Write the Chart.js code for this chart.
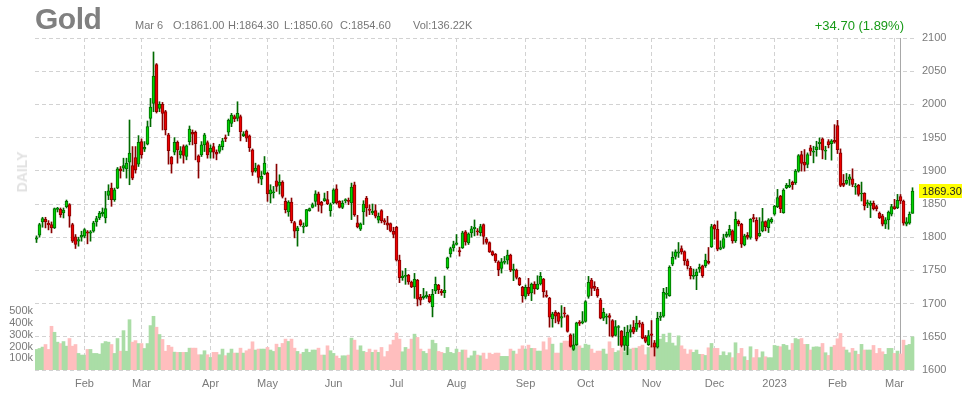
<!DOCTYPE html>
<html>
<head>
<meta charset="utf-8">
<title>Gold</title>
<script src="https://cdn.jsdelivr.net/npm/chart.js@4.4.1/dist/chart.umd.min.js"></script>
<style>
html, body { margin: 0; padding: 0; background: #fff; }
#wrap { position: relative; width: 962px; height: 400px; font-family: Arial, "Liberation Sans", sans-serif; overflow: hidden; }
#wrap canvas { position: absolute; left: 0; top: 0; }
.t { position: absolute; white-space: nowrap; line-height: 1; }
.info { font-size: 11px; color: #777; top: 20px; }
</style>
</head>
<body>
<div id="wrap">
	<canvas id="goldChart" width="962" height="400"></canvas>
	<div class="t" style="left:35px;top:4px;font-size:30px;font-weight:bold;color:#808080;letter-spacing:-0.5px;">Gold</div>
	<div class="t info" id="hDate" style="left:135px;"></div>
	<div class="t info" id="hO" style="left:173px;"></div>
	<div class="t info" id="hH" style="left:228px;"></div>
	<div class="t info" id="hL" style="left:284px;"></div>
	<div class="t info" id="hC" style="left:340px;"></div>
	<div class="t info" id="hV" style="left:413px;"></div>
	<div class="t" id="hChg" style="right:58px;top:19px;font-size:13px;color:#189a18;"></div>
	<div class="t" style="left:22px;top:172px;font-size:14px;font-weight:bold;color:#e2e2e2;transform:translate(-50%,-50%) rotate(-90deg);">DAILY</div>
</div>
<script>
// daily candles, Jan 2022 - Mar 2023
const opens = [
	1797,1803,1823,1827,1821,1819,1814,1842,1842,1836.5,
	1846,1849,1819,1800.5,1794,1800,1801.5,1808,1806,1809,
	1823,1829,1835,1829,1863,1874,1856.5,1874,1903,1904,
	1903,1913,1908,1920,1910,1944,1932.5,1940,1979,2001.5,
	2060,1994,2000,1989,1954,1920.5,1928,1943,1924,1936.5,
	1921.5,1944,1958,1958,1922.5,1924,1939,1942.5,1928,1936.5,
	1928,1929,1936.5,1950,1958,1971.5,1981.5,1979,1981.5,1953,
	1960,1952.5,1931.5,1900,1908,1887.5,1895,1896.5,1865,1867,
	1885,1878,1883,1854,1838,1853,1822,1810,1825,1815,
	1816.5,1840,1845,1854,1865.5,1852.5,1855,1856.5,1840,1851.5,
	1873,1854,1845,1855,1855.5,1851.5,1879,1821.5,1812,1838,
	1859,1842.5,1836.5,1840,1825.5,1840,1825,1821.5,1820.5,1809,
	1815,1765.5,1739,1741,1742.5,1732.5,1725,1735,1710,1709,
	1710,1711.5,1695,1719,1728,1719,1716,1754,1775,1784,
	1789,1780,1784,1808,1791.5,1806.5,1813,1809,1807,1819,
	1797,1792,1778.5,1774.5,1763,1753,1762,1765.5,1773,1750,
	1750.5,1738,1724.5,1711,1724.5,1716,1729.5,1722,1729.5,1737,
	1713,1708.5,1677,1687,1685.5,1678,1686,1682,1653,1631,
	1638,1672,1671,1673,1711,1735.5,1726,1722,1705.5,1678,
	1679.5,1682,1674.5,1652,1664,1658.5,1637,1636,1657,1664.5,
	1661,1671,1669.5,1649.5,1638,1654.5,1641,1634.5,1679,1681,
	1714,1712,1759.5,1771,1776,1783,1778.5,1764.5,1753,1741,
	1742,1752,1757,1757,1763.5,1785.5,1818,1812,1782,1784.5,
	1801,1803,1809.5,1794.5,1824,1819.5,1788.5,1803,1799.5,1829.5,
	1825.5,1802,1809.5,1823.5,1814.5,1823,1834.5,1846,1862,1837,
	1874.5,1876,1882.5,1882,1899.5,1924.5,1913,1909.5,1934.5,1928,
	1932,1941,1948,1929.5,1944,1941,1946,1968,1927,1881,
	1881,1887,1888,1875.5,1878,1865,1866,1850,1848,1851,
	1846,1836,1832,1819.5,1826,1834.5,1846,1844.5,1861,1854.5,
	1819.5,1821,1836
];
const highs = [
	1802,1821,1830,1830,1825,1823,1844,1845,1844,1844,
	1856,1850.5,1821,1804,1800,1809,1813,1810,1810,1824,
	1831.5,1839,1844,1869,1879,1881.5,1874,1905,1906.5,1919,
	1919,1976.5,1936.5,1936.5,1953,1948,1944,1975,2009,2079,
	2061.5,2004,2003,1991,1956.5,1921.5,1950,1945,1936.5,1939,
	1939,1967.5,1961.5,1960,1924,1944,1956.5,1945,1939,1941.5,
	1931.5,1940,1949,1954,1978,1986.5,1984,2004,1984,1959,
	1961.5,1954,1933,1911.5,1909,1899,1921.5,1898,1879,1876.5,
	1910,1894,1885,1859,1855,1859,1824,1816.5,1826.5,1821.5,
	1842,1844,1851.5,1870,1868,1854,1866.5,1869,1851.5,1873,
	1879,1855,1855,1858,1859,1881.5,1883,1833,1821.5,1855,
	1861.5,1849,1850,1849,1836.5,1841.5,1828,1831.5,1821.5,1815,
	1816.5,1773,1749,1753,1744,1734,1745.5,1736.5,1714,1723,
	1718,1714,1721.5,1740,1729,1721.5,1741.5,1770,1785,1794,
	1804,1785,1809,1810,1806.5,1816.5,1826,1813,1819.5,1820,
	1799.5,1793,1779.5,1775.5,1764.5,1768,1771,1780.5,1774.5,1759.5,
	1752,1739.5,1726,1728,1738,1731,1733,1742,1747,1738,
	1719.5,1709.5,1687,1689.5,1687,1697,1694.5,1683,1654.5,1654.5,
	1672,1674.5,1688,1704.5,1741,1738,1733,1724.5,1708,1693,
	1684.5,1685,1676,1674.5,1667,1659.5,1664.5,1667,1668,1674.5,
	1681,1674.5,1672,1652,1659.5,1674.5,1644.5,1687,1687,1723,
	1724.5,1757,1778,1781,1792,1787,1779.5,1767,1756,1752,
	1752,1759.5,1758,1774.5,1784.5,1819.5,1819.5,1824.5,1794.5,1804.5,
	1808,1818,1811,1838,1826,1821,1804.5,1807,1828,1834.5,
	1829.5,1829.5,1843.5,1824.5,1828,1829.5,1848,1872,1863,1873,
	1881,1887,1884.5,1902,1924.5,1929.5,1932,1927,1938.5,1937,
	1944.5,1949.5,1949.5,1937,1947,1947,1969.5,1976,1933,1894.5,
	1896,1894.5,1903,1881,1879.5,1883,1867,1856,1854.5,1854.5,
	1848,1838,1834.5,1829.5,1839.5,1849.5,1857,1864.5,1864.3,1856,
	1829.5,1838,1874.5
];
const lows = [
	1792,1800,1815,1814,1811,1806.5,1813,1838,1830,1829,
	1844,1815,1792,1783,1786.5,1794,1799,1790,1794,1807.5,
	1816.5,1826.5,1831.5,1821.5,1856.5,1846.5,1854,1873,1889,1899,
	1889,1879,1886.5,1896.5,1906.5,1919,1929,1939,1966.5,1989,
	1987,1989,1961.5,1954,1910,1896.5,1924,1911.5,1919,1911.5,
	1916.5,1939,1939,1916.5,1889,1921.5,1929,1919,1919,1919,
	1916.5,1926.5,1931.5,1944,1953,1966.5,1974,1975,1945,1951.5,
	1944,1929,1893,1898,1881.5,1879,1894,1854,1851.5,1859,
	1869,1865,1859,1836.5,1831.5,1821.5,1799,1786.5,1816.5,1806.5,
	1816,1839,1844,1846.5,1839,1836.5,1854,1849,1831.5,1850,
	1850,1844,1843,1851.5,1849,1826.5,1831.5,1814,1810,1819,
	1831.5,1834,1834,1829,1821.5,1821.5,1819,1811.5,1808,1799,
	1764,1731.5,1735,1729,1729,1724,1708,1696.5,1698,1706.5,
	1708,1701.5,1680,1715,1715,1712.5,1709,1752,1770,1779,
	1788,1771.5,1783,1788,1789,1800,1802,1803,1802,1789.5,
	1789.5,1777,1772,1762,1742,1746,1759.5,1759.5,1748,1734.5,
	1737,1727,1702,1707,1712,1704.5,1714.5,1721,1728,1709.5,
	1709.5,1664.5,1664.5,1671,1669.5,1664.5,1679.5,1657,1634.5,1629.5,
	1637,1667,1669.5,1672,1708,1712,1719.5,1709.5,1677,1674.5,
	1669.5,1651,1649.5,1651,1637,1634.5,1629.5,1623,1649.5,1654.5,
	1658,1664.5,1647,1641,1637,1634.5,1621,1633,1674.5,1679.5,
	1708,1711,1757,1767,1769.5,1774.5,1758,1752,1737,1737,
	1721,1747,1739.5,1754.5,1759.5,1784.5,1797,1779.5,1781,1783,
	1799.5,1801,1791,1792,1817,1784.5,1787,1797,1797,1823,
	1794.5,1801,1808,1809.5,1807,1821,1833,1844.5,1837,1836,
	1873,1874.5,1872,1879.5,1898,1899.5,1899.5,1904.5,1923,1912,
	1922,1932,1918,1917,1934.5,1916,1941.5,1926,1876,1876,
	1879.5,1878,1876,1864.5,1862,1854.5,1841,1844.5,1829.5,1841,
	1839.5,1828,1817,1813,1812,1832,1842,1843,1850.6,1818,
	1817,1819.5,1836
];
const closes = [
	1799,1819,1828,1823,1818.5,1814,1843,1842.5,1834,1841,
	1854,1831.5,1794,1789,1796.5,1803,1811.5,1806,1808,1821.5,
	1828,1836.5,1838,1843,1870,1856.5,1871.5,1903,1900,1908,
	1911.5,1926.5,1889,1901.5,1943,1924,1935.5,1966.5,1996,2042.5,
	1989,2000,1986.5,1961.5,1930.5,1910,1943,1931.5,1930,1923,
	1937.5,1963,1955,1941,1913,1939,1954,1924,1934,1928,
	1925,1937.5,1945,1948,1976.5,1984,1978,1986.5,1959,1955.5,
	1949,1935,1898,1904,1890,1891.5,1911.5,1865,1871.5,1868,
	1876.5,1883,1861.5,1841.5,1853,1825,1809,1814,1819,1816,
	1841.5,1843,1849,1865.5,1849,1848,1858,1850,1849,1871.5,
	1851.5,1845,1851.5,1856.5,1854,1875.5,1834,1815.5,1820,1850,
	1844,1840.5,1839,1831.5,1831.5,1825,1822.5,1818,1809,1804,
	1765.5,1739,1741.5,1742.5,1732.5,1725,1736.5,1706.5,1705,1711.5,
	1713,1703,1714,1729,1720.5,1716.5,1720,1769,1783,1789,
	1791.5,1778,1806.5,1793,1805,1812.5,1815,1808,1816,1801,
	1792,1778,1773.5,1764.5,1751,1763,1763.5,1773,1750.5,1752,
	1739.5,1728.5,1712,1724.5,1714.5,1729.5,1722,1729.5,1741,1718,
	1711,1679.5,1684.5,1681,1673,1680.5,1684.5,1658,1635.5,1638,
	1671,1670,1673,1703,1732,1723,1723,1712,1678,1687,
	1680.5,1679,1651,1665.5,1665,1637,1651,1657,1661,1657,
	1670.5,1669,1648,1643,1652,1652,1634.5,1678,1681,1717,
	1716,1754.5,1769.5,1778,1778,1778,1764.5,1757,1742,1742.5,
	1748,1754.5,1742,1765.5,1761,1816,1812,1782,1784.5,1798,
	1804.5,1812,1794.5,1827,1820.5,1789.5,1802,1799.5,1827,1828,
	1797,1806,1823.5,1816,1826,1827,1847,1859.5,1843,1871,
	1878,1878,1879,1899.5,1923,1911,1908.5,1924.5,1929.5,1929.5,
	1936,1943,1931,1931,1939.5,1945,1943,1932,1878,1878,
	1885.5,1891,1879.5,1876,1864.5,1866,1847,1852,1851,1843,
	1843,1829.5,1819.5,1826,1838,1846,1843,1855.5,1854.6,1821,
	1823,1834.6,1869.3
];
// volume in thousands of contracts
const volumes = [
	175,183,195,217,175,372,321,237,225,242,
	203,268,203,217,141,127,127,175,175,141,
	141,135,225,242,237,217,141,268,160,335,
	160,428,237,250,225,225,183,225,378,457,
	364,302,260,160,210,195,152,150,150,150,
	150,186,186,186,130,130,164,130,107,150,
	150,130,178,122,144,178,144,144,186,144,
	164,178,240,170,178,178,178,192,170,158,
	220,192,226,263,243,263,186,158,136,150,
	178,150,170,170,186,127,127,206,164,141,
	119,99,121,121,127,271,254,170,206,158,
	150,178,150,170,150,192,113,158,215,254,
	314,263,155,192,178,263,305,277,178,158,
	141,178,254,226,158,150,141,192,150,141,
	178,150,170,170,102,121,161,127,121,144,
	93,144,133,144,144,116,116,116,178,161,
	136,178,206,178,212,184,184,161,161,240,
	172,274,220,144,144,229,246,246,246,206,
	229,206,186,220,212,178,144,161,161,178,
	136,240,184,150,164,186,155,192,178,186,
	186,200,212,130,192,206,229,192,263,305,
	234,314,229,206,291,206,178,136,172,150,
	170,133,133,124,189,226,184,184,124,155,
	124,147,105,232,141,184,113,82,198,105,
	175,105,155,113,105,105,209,203,198,218,
	209,170,226,268,260,268,218,218,170,195,
	198,195,226,147,124,195,209,266,311,195,
	170,147,184,161,133,218,170,170,170,209,
	141,184,155,133,184,184,141,161,136.22,254,
	209,218,282
];

// first trading day of each month (candle index) and its label
const monthIdx = [16, 35, 58, 77, 99, 120, 140, 163, 183, 205, 226, 246, 267, 286];
const monthLabels = ['Feb', 'Mar', 'Apr', 'May', 'Jun', 'Jul', 'Aug', 'Sep', 'Oct', 'Nov', 'Dec', '2023', 'Feb', 'Mar'];
const volTicks = [100, 200, 300, 400, 500];

const hoverIdx = 288;
const hoverLabel = 'Mar 6';

document.addEventListener('DOMContentLoaded', () => {
	const last = closes.length - 1;
	const up = closes.map((c, i) => c >= opens[i]);

	// header text
	const f2 = v => v.toFixed(2);
	document.getElementById('hDate').textContent = hoverLabel;
	document.getElementById('hO').textContent = 'O:' + f2(opens[hoverIdx]);
	document.getElementById('hH').textContent = 'H:' + f2(highs[hoverIdx]);
	document.getElementById('hL').textContent = 'L:' + f2(lows[hoverIdx]);
	document.getElementById('hC').textContent = 'C:' + f2(closes[hoverIdx]);
	document.getElementById('hV').textContent = 'Vol:' + f2(volumes[hoverIdx]) + 'K';
	const chg = closes[last] - closes[last - 1];
	const pct = chg / closes[last - 1] * 100;
	document.getElementById('hChg').textContent = (chg >= 0 ? '+' : '') + f2(chg) + ' (' + f2(pct) + '%)';

	const wickData = highs.map((h, i) => ({ x: i, y: [lows[i], h] }));
	const bodyData = opens.map((o, i) => ({ x: i, y: [o, closes[i]] }));
	const volData = volumes.map((v, i) => ({ x: i, y: v }));

	const overlay = {
		id: 'overlay',
		beforeDatasetsDraw(chart) {
			const { ctx, chartArea, scales } = chart;
			const x = Math.floor(scales.x.getPixelForValue(hoverIdx)) + 0.5;
			ctx.save();
			ctx.strokeStyle = '#a8a8a8';
			ctx.lineWidth = 1;
			ctx.beginPath();
			ctx.moveTo(x, chartArea.top);
			ctx.lineTo(x, chartArea.bottom);
			ctx.stroke();
			ctx.restore();
		},
		afterDraw(chart) {
			const { ctx, chartArea, scales } = chart;
			const y = scales.y.getPixelForValue(closes[last]);
			ctx.save();
			ctx.fillStyle = '#ffff00';
			ctx.fillRect(chartArea.right + 4, Math.round(y) - 7, 43, 14);
			ctx.fillStyle = '#222';
			ctx.font = '11px Arial, "Liberation Sans", sans-serif';
			ctx.textBaseline = 'middle';
			ctx.fillText(f2(closes[last]), chartArea.right + 7, Math.round(y) + 0.5);
			ctx.restore();
		}
	};

	new Chart(document.getElementById('goldChart'), {
		type: 'bar',
		data: {
			datasets: [
				{
					label: 'Volume',
					data: volData,
					yAxisID: 'yVol',
					backgroundColor: up.map(u => u ? '#aadda6' : '#ffbebe'),
					barThickness: 3,
					grouped: false,
					order: 3
				},
				{
					label: 'Range',
					data: wickData,
					yAxisID: 'y',
					backgroundColor: up.map(u => u ? '#006a00' : '#880000'),
					barThickness: 1,
					minBarLength: 1,
					grouped: false,
					order: 2
				},
				{
					label: 'Gold',
					data: bodyData,
					yAxisID: 'y',
					backgroundColor: up.map(u => u ? '#00d400' : '#ee0000'),
					borderColor: up.map(u => u ? '#006a00' : '#880000'),
					borderWidth: 1,
					borderSkipped: false,
					barThickness: 3,
					minBarLength: 1,
					grouped: false,
					order: 1
				}
			]
		},
		options: {
			responsive: false,
			animation: false,
			events: [],
			layout: { padding: { top: 38 } },
			font: { family: 'Arial, "Liberation Sans", sans-serif', size: 11 },
			plugins: { legend: { display: false }, tooltip: { enabled: false } },
			scales: {
				x: {
					type: 'linear',
					offset: false,
					min: -0.5,
					max: 292.83,
					grid: { color: '#d2d2d2', drawTicks: false, offset: false },
					border: { display: false, dash: [4, 3] },
					ticks: {
						color: '#7a7a7a',
						font: { size: 11 },
						padding: 7,
						autoSkip: false,
						maxRotation: 0,
						callback: (v, i) => monthLabels[i]
					},
					afterBuildTicks: s => { s.ticks = monthIdx.map(v => ({ value: v })); },
					afterFit: s => { s.height = 30; }
				},
				y: {
					position: 'right',
					min: 1600,
					max: 2100,
					grid: { color: '#d2d2d2', drawTicks: false },
					border: { display: false, dash: [4, 3] },
					ticks: { stepSize: 50, padding: 7, color: '#7a7a7a', font: { size: 11 }, callback: v => String(v) },
					afterFit: s => { s.width = 47; }
				},
				yVol: {
					position: 'left',
					min: 0,
					max: 2825,
					grid: { display: false, drawTicks: false },
					border: { display: false },
					ticks: { padding: 2, color: '#7a7a7a', font: { size: 11 }, callback: v => v + 'k' },
					afterBuildTicks: s => { s.ticks = volTicks.map(v => ({ value: v })); },
					afterFit: s => { s.width = 35; }
				}
			}
		},
		plugins: [overlay]
	});
});
</script>
</body>
</html>
